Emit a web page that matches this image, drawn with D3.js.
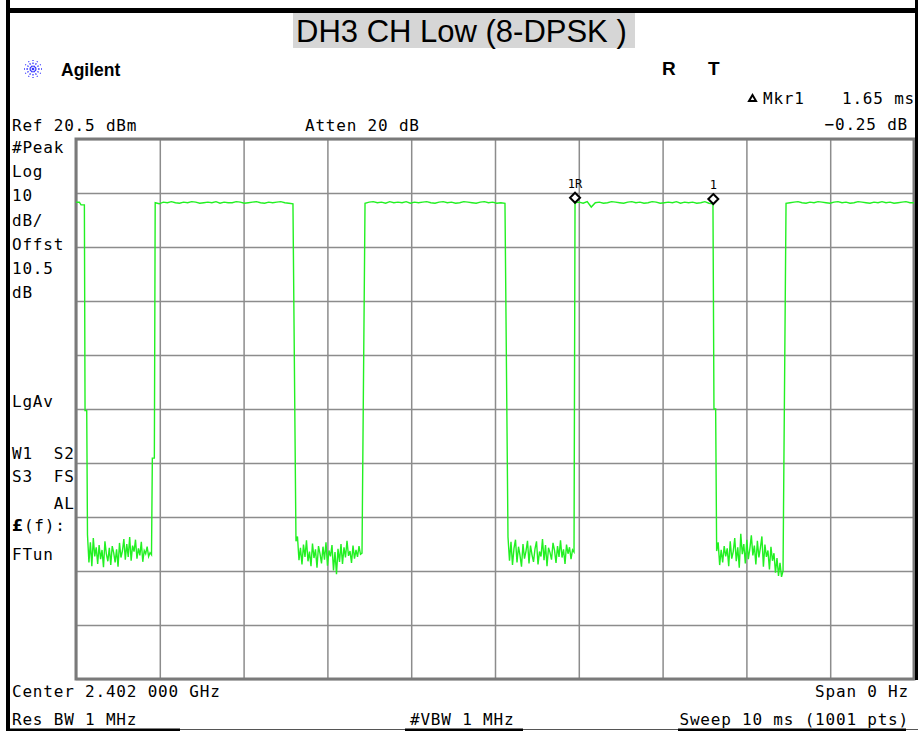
<!DOCTYPE html>
<html><head><meta charset="utf-8">
<script src="https://cdn.jsdelivr.net/npm/d3@7"></script>
<style>body{margin:0;background:#fff}svg{display:block}</style>
</head><body>
<svg id="c" width="919" height="731"></svg>
<script>
// ---------- data ----------
const title = "DH3 CH Low (8-DPSK )";
const sweepDomain = [0, 10];            // ms (Sweep 10 ms, Span 0 Hz)
const levelDomain = [-79.5, 20.5];      // dBm (Ref 20.5 dBm, 10 dB/div)
const xDivs = [0,1,2,3,4,5,6,7,8,9,10];
const yDivs = [20.5,10.5,0.5,-9.5,-19.5,-29.5,-39.5,-49.5,-59.5,-69.5,-79.5];

const high1 = [8.8,8.8,8.8,8.3,8.3,8.3];
const step1 = [-29.8,-29.8];
const low1 = [-52.8,-57.9,-54.2,-58.6,-53.4,-56.8,-55.1,-58.2,-54.7,-57.3,-55.6,-58.8,-54.0,-56.4,-57.7,-55.2,-58.4,-54.9,-56.1,-57.9,-55.5,-58.7,-54.3,-57.0,-55.8,-53.6,-57.4,-54.5,-56.9,-53.2,-57.6,-54.8,-55.9,-53.7,-57.2,-55.3,-56.6,-54.1,-57.8,-55.7,-56.3,-55.0,-56.8,-56.1,-56.5];
const step2 = [-38.6,-38.6];
const high2 = [8.7,8.5,8.8,8.7,8.9,8.7,8.6,8.8,8.7,8.9,8.8,8.6,8.7,8.8,8.7,8.9,8.6,8.8,8.7,8.7,8.9,8.8,8.6,8.7,8.8,8.9,8.7,8.6,8.8,8.7,8.8,8.9,8.7,8.6,8.5];
const low2 = [-54.0,-53.1,-57.5,-55.2,-58.3,-54.6,-56.9,-53.8,-57.7,-55.9,-58.6,-54.4,-57.1,-55.5,-58.9,-54.9,-56.3,-58.1,-55.0,-57.4,-54.2,-58.5,-55.7,-56.8,-54.7,-59.4,-56.0,-60.1,-55.4,-57.8,-54.5,-58.2,-55.1,-57.0,-53.9,-56.7,-55.8,-58.0,-54.8,-57.2,-55.6,-56.9,-54.9,-56.4,-56.2];
const high3 = [8.6,8.8,8.9,8.7,8.8,8.6,8.9,8.7,8.8,8.7,8.9,8.6,8.8,8.7,8.8,8.9,8.7,8.6,8.8,8.9,8.7,8.8,8.6,8.7,8.9,8.8,8.7,8.6,8.8,8.9,8.7,8.8,8.6,8.7,8.6];
const low3 = [-53.2,-57.6,-54.1,-58.4,-55.3,-53.7,-57.9,-55.0,-56.6,-58.7,-54.5,-57.2,-55.8,-53.9,-58.1,-54.8,-56.5,-57.8,-55.4,-54.0,-58.3,-55.9,-56.8,-53.6,-57.5,-54.7,-58.6,-55.2,-56.1,-57.4,-54.3,-55.7,-58.0,-54.9,-56.9,-53.8,-57.0,-55.5,-58.2,-54.6,-56.3,-55.1,-57.3,-55.6,-56.0];
const high4 = [8.7,8.8,8.6,8.9,7.9,8.7,8.8,8.6,8.7,8.9,8.8,8.7,8.6,8.8,8.9,8.7,8.8,8.6,8.7,8.9,8.8,8.6,8.7,8.8,8.7,8.9,8.6,8.8,8.7,8.8,8.6,8.7,8.9,8.6,8.5];
const step3 = [-29.5,-29.5];
const low4 = [-55.8,-54.2,-58.4,-55.6,-57.9,-54.9,-56.8,-55.3,-58.6,-54.0,-57.2,-55.9,-53.4,-57.7,-55.1,-58.9,-52.6,-56.4,-54.5,-58.1,-53.7,-57.3,-55.4,-52.9,-56.6,-54.8,-58.3,-53.9,-57.0,-55.2,-53.1,-58.7,-54.6,-56.9,-55.7,-59.2,-55.0,-57.6,-56.2,-59.8,-57.1,-60.4,-58.0,-60.6,-59.5];
const high5 = [8.6,8.7,8.8,8.9,8.7,8.6,8.8,8.7,8.9,8.8,8.7,8.6,8.8,8.9,8.7,8.8,8.6,8.7,8.9,8.8,8.7,8.6,8.8,8.7,8.9,8.7,8.8,8.6,8.7,8.8,8.9,8.7,8.7];
// segment start/end times in ms, paired with the readings above
const segTimes = [[0,0.10],[0.108,0.128],[0.137,0.901],[0.911,0.935],[0.945,2.589],[2.625,3.413],
                  [3.449,5.119],[5.155,5.943],[5.955,7.601],[7.613,7.633],[7.645,8.437],[8.473,10]];
const segValues = [high1,step1,low1,step2,high2,low2,high3,low3,high4,step3,low4,high5];

const markerTimes = [5.955, 7.605];
const markerLevels = [8.7, 8.45];
const markerLabels = ["1R", "1"];

const leftLabels = ["#Peak","Log","10","dB/","Offst","10.5","dB"];
const leftLabelsLower = ["LgAv","W1  S2","S3  FS","    AL","(f):","FTun"];

// ---------- drawing ----------
const svg = d3.select("#c");
const W = 919, H = 731;
const x = d3.scaleLinear().domain(sweepDomain).range([76, 914]);
const y = d3.scaleLinear().domain(levelDomain).range([679, 139]);

svg.append("rect").attr("width", W).attr("height", H).attr("fill", "#fff");

// grid via axes
const grid = svg.append("g");
grid.append("g").attr("transform", "translate(0,679)")
  .call(d3.axisBottom(x).tickValues(xDivs).tickSize(-540).tickFormat(""))
  .call(g => g.select(".domain").remove());
grid.append("g").attr("transform", "translate(76,0)")
  .call(d3.axisLeft(y).tickValues(yDivs).tickSize(-838).tickFormat(""))
  .call(g => g.select(".domain").remove());
grid.selectAll(".tick line").attr("stroke", "#8c8c8c").attr("stroke-width", 1.5);
svg.append("rect").attr("x", x(0)).attr("y", y(20.5)).attr("width", x(10) - x(0)).attr("height", y(-79.5) - y(20.5))
  .attr("fill", "none").attr("stroke", "#7a7a7a").attr("stroke-width", 3);

// trace
const pts = [];
segValues.forEach((vals, i) => {
  const [t0, t1] = segTimes[i];
  vals.forEach((v, j) => {
    const t = vals.length > 1 ? t0 + (t1 - t0) * j / (vals.length - 1) : t0;
    pts.push([t, v]);
  });
});
svg.append("path").datum(pts)
  .attr("d", d3.line().x(d => x(d[0])).y(d => y(d[1])))
  .attr("fill", "none").attr("stroke", "#22f022").attr("stroke-width", 1.4);

// markers
markerTimes.forEach((t, i) => {
  const cx = x(t), cy = y(markerLevels[i]) - 5;
  svg.append("path").attr("d", `M${cx},${cy-5}L${cx+5},${cy}L${cx},${cy+5}L${cx-5},${cy}Z`)
    .attr("fill", "#fff").attr("stroke", "#000").attr("stroke-width", 2);
  svg.append("text").attr("x", cx).attr("y", cy - 10).attr("text-anchor", "middle")
    .attr("font-family", "DejaVu Sans Mono").attr("font-size", 12).attr("fill", "#000").text(markerLabels[i]);
});

// frame
svg.append("rect").attr("x", 6).attr("y", 0).attr("width", 4).attr("height", H).attr("fill", "#000");
svg.append("rect").attr("x", 6).attr("y", 8).attr("width", 911).attr("height", 5).attr("fill", "#000");
svg.append("rect").attr("x", 915).attr("y", 0).attr("width", 3).attr("height", 680).attr("fill", "#000");
svg.append("line").attr("x1", 6).attr("x2", 918).attr("y1", 729.5).attr("y2", 729.5).attr("stroke", "#555").attr("stroke-width", 1);
[[6,180],[405,523],[678,906]].forEach(s => svg.append("rect").attr("x", s[0]).attr("y", 728.5).attr("width", s[1]-s[0]).attr("height", 2.5).attr("fill", "#000"));

// title
svg.append("rect").attr("x", 293).attr("y", 13).attr("width", 342).attr("height", 35).attr("fill", "#d6d6d6");
svg.append("text").attr("x", 296).attr("y", 41.5).attr("font-family", "Liberation Sans, Arial, sans-serif")
  .attr("font-size", 31).attr("fill", "#000").text(title);

// Agilent logo
const star = svg.append("g").attr("transform", "translate(33,69)");
d3.range(12).forEach(k => {
  const a = k * Math.PI / 6;
  star.append("line").attr("x1", 2 * Math.cos(a)).attr("y1", 2 * Math.sin(a))
    .attr("x2", 9 * Math.cos(a)).attr("y2", 9 * Math.sin(a))
    .attr("stroke", "#3a3aff").attr("stroke-width", 1.3).attr("stroke-dasharray", "1.6,1.4");
});
star.append("circle").attr("r", 1.3).attr("fill", "#3a3aff");
svg.append("text").attr("x", 61).attr("y", 76).attr("font-family", "Liberation Sans, Arial, sans-serif")
  .attr("font-weight", "bold").attr("font-size", 17.5).text("Agilent");
svg.append("text").attr("x", 662).attr("y", 75).attr("font-family", "Liberation Sans, Arial, sans-serif")
  .attr("font-weight", "bold").attr("font-size", 19).text("R");
svg.append("text").attr("x", 708).attr("y", 75).attr("font-family", "Liberation Sans, Arial, sans-serif")
  .attr("font-weight", "bold").attr("font-size", 19).text("T");

// instrument text
function mono(txt, px, py, anchor) {
  return svg.append("text").attr("x", px).attr("y", py).attr("text-anchor", anchor || "start")
    .attr("font-family", "DejaVu Sans Mono, monospace").attr("font-size", 16)
    .attr("letter-spacing", 0.8).attr("fill", "#000").attr("xml:space", "preserve")
    .style("white-space", "pre").text(txt);
}
mono("Ref 20.5 dBm", 12, 131);
mono("Atten 20 dB", 305, 131);
mono("Mkr1", 763, 104);
mono("1.65 ms", 915, 104, "end");
mono("\u22120.25 dB", 908, 130, "end");
svg.append("path").attr("d", "M749,101L752.5,95L756,101Z").attr("fill", "none").attr("stroke", "#000").attr("stroke-width", 2);

const leftY = [153, 177, 201, 226, 250, 274, 298];
leftLabels.forEach((s, i) => mono(s, 12, leftY[i]));
const lowerY = [407, 459, 482, 509, 531, 560];
leftLabelsLower.forEach((s, i) => {
  const t = mono(i === 4 ? "" : s, 12, lowerY[i]);
  if (i === 4) {
    t.append("tspan").attr("font-weight", "bold").attr("font-family", "DejaVu Sans, sans-serif").text("\u00a3");
    t.append("tspan").text(s);
  }
});

mono("Center 2.402 000 GHz", 12, 697);
mono("Span 0 Hz", 909, 697, "end");
mono("Res BW 1 MHz", 12, 725);
mono("#VBW 1 MHz", 410, 725);
mono("Sweep 10 ms (1001 pts)", 909, 725, "end");
</script>
</body></html>
